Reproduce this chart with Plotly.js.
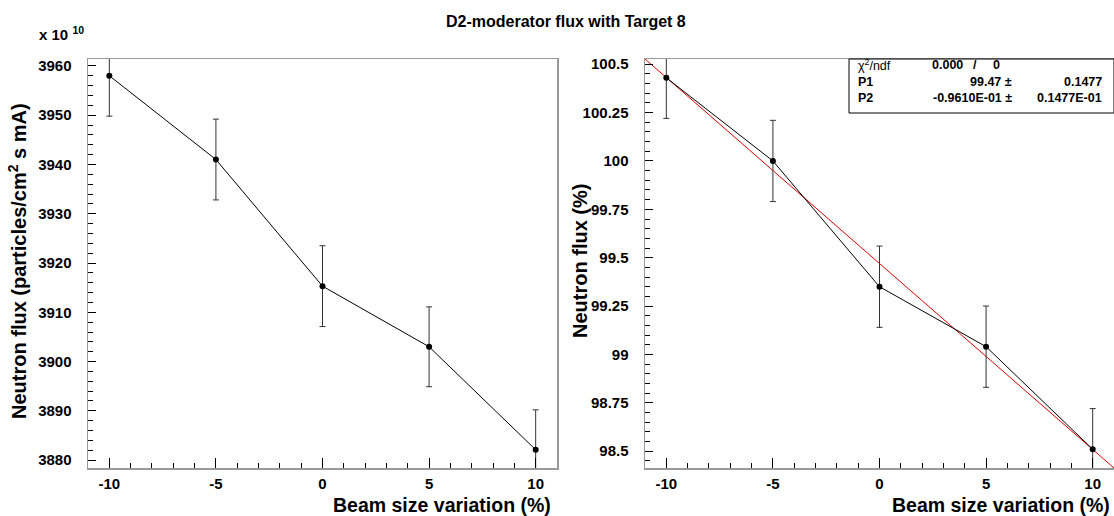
<!DOCTYPE html>
<html>
<head>
<meta charset="utf-8">
<script src="https://cdn.plot.ly/plotly-3.0.1.min.js"></script>
<style>
html,body{margin:0;padding:0;background:#fff;}
#chart{width:1114px;height:516px;}
</style>
</head>
<body>
<div id="chart"></div>
<script>
// ---- data ----
const beamVariation = [-10, -5, 0, 5, 10];
const fluxAbs = [3958.0, 3941.0, 3915.3, 3903.0, 3882.1];      // x 10^10 particles/cm^2 s mA
const fluxAbsErr = [8.2, 8.2, 8.2, 8.1, 8.1];
const fluxRel = [100.43, 100.00, 99.35, 99.04, 98.51];          // %
const fluxRelErr = [0.21, 0.21, 0.21, 0.21, 0.21];
const fitP1 = 99.47;
const fitP2 = -0.0961;
const fitRangeX = [-11, 11];
const xTicks = [-10, -5, 0, 5, 10];
const xTickLabels = ['-10', '-5', '0', '5', '10'];

const W = 1114, H = 516;
const FONT = 'Liberation Sans, Arial, Helvetica, sans-serif';

const fitY = fitRangeX.map(x => fitP1 + fitP2 * x);

const markerStyle = {color: '#000', size: 6};
const lineStyle = {color: '#000', width: 1};
const errStyle = (arr) => ({type: 'data', array: arr, visible: true, color: '#333', thickness: 1, width: 3});

const traces = [
  {x: beamVariation, y: fluxAbs, error_y: errStyle(fluxAbsErr), mode: 'lines+markers',
   marker: markerStyle, line: lineStyle, xaxis: 'x', yaxis: 'y', hoverinfo: 'x+y'},
  {x: fitRangeX, y: fitY, mode: 'lines', line: {color: '#e00000', width: 1},
   xaxis: 'x2', yaxis: 'y2', hoverinfo: 'skip'},
  {x: beamVariation, y: fluxRel, error_y: errStyle(fluxRelErr), mode: 'lines+markers',
   marker: markerStyle, line: lineStyle, xaxis: 'x2', yaxis: 'y2', hoverinfo: 'x+y'}
];

const yDom = [1 - 468 / H, 1 - 59 / H];
const tickFont = {family: FONT, size: 15, color: '#000', weight: 'bold'};

function xAxis(dom, anchor) {
  return {
    domain: dom, anchor: anchor, range: [-11, 11],
    tickmode: 'array', tickvals: xTicks, ticktext: xTickLabels,
    ticks: 'inside', ticklen: 10, tickcolor: '#000', tickwidth: 1,
    minor: {dtick: 1, tick0: 0, ticks: 'inside', ticklen: 5, tickcolor: '#000', tickwidth: 1, showgrid: false},
    showline: true, linecolor: '#999', linewidth: 1.5, mirror: true,
    showgrid: false, zeroline: false, tickfont: tickFont, ticklabelstandoff: 1, fixedrange: true
  };
}
function yAxis(range, dtick, minorD, anchor) {
  return {
    domain: yDom, anchor: anchor, range: range, dtick: dtick, tick0: 0,
    ticks: 'inside', ticklen: 8, tickcolor: '#000', tickwidth: 1,
    minor: {dtick: minorD, ticks: 'inside', ticklen: 5, tickcolor: '#000', tickwidth: 1, showgrid: false},
    showline: true, linecolor: '#999', linewidth: 1.5, mirror: true,
    showgrid: false, zeroline: false, tickfont: tickFont, ticklabelstandoff: 12, fixedrange: true
  };
}

const ax1L = 88 / W, ax1R = 557 / W, ax2L = 645 / W, ax2R = 1;

const boldF = (size) => ({family: FONT, size: size, color: '#000', weight: 'bold'});

const boxL = 849 / W, boxB = 1 - 113 / H, boxT = 1 - 59 / H;
function statText(text, xpx, ypx, anchor, bold) {
  return {text: text, xref: 'paper', yref: 'paper', x: xpx / W, y: 1 - ypx / H,
    xanchor: anchor, yanchor: 'middle', showarrow: false,
    font: {family: FONT, size: 12.5, color: '#000', weight: bold ? 'bold' : 'normal'}};
}

const layout = {
  width: W, height: H,
  margin: {l: 0, r: 0, t: 0, b: 0},
  paper_bgcolor: '#fff', plot_bgcolor: '#fff',
  showlegend: false,
  xaxis: xAxis([ax1L, ax1R], 'y'),
  yaxis: yAxis([3878.4, 3961.4], 10, 2, 'x'),
  xaxis2: xAxis([ax2L, ax2R], 'y2'),
  yaxis2: yAxis([98.413, 100.527], 0.25, 0.05, 'x2'),
  shapes: [
    {type: 'rect', xref: 'paper', yref: 'paper', x0: boxL, x1: 1, y0: boxB, y1: boxT,
     line: {color: '#000', width: 1}, fillcolor: '#fff', layer: 'above'}
  ],
  annotations: [
    {text: 'D2-moderator flux with Target 8', xref: 'paper', yref: 'paper', x: 566 / W, y: 1 - 22 / H,
     xanchor: 'center', yanchor: 'middle', showarrow: false, font: boldF(16)},
    {text: 'x 10 <sup>10</sup>', xref: 'paper', yref: 'paper', x: 37 / W, y: 1 - 33 / H,
     xanchor: 'left', yanchor: 'middle', showarrow: false, font: boldF(15)},
    {text: 'Neutron flux (particles/cm<sup>2</sup> s mA)', xref: 'paper', yref: 'paper', x: 17 / W, y: 1 - 261 / H,
     xanchor: 'center', yanchor: 'middle', textangle: -90, showarrow: false, font: boldF(20)},
    {text: 'Neutron flux (%)', xref: 'paper', yref: 'paper', x: 580 / W, y: 1 - 261 / H,
     xanchor: 'center', yanchor: 'middle', textangle: -90, showarrow: false, font: boldF(20)},
    {text: 'Beam size variation (%)', xref: 'paper', yref: 'paper', x: 553 / W, y: 1 - 505 / H,
     xanchor: 'right', yanchor: 'middle', showarrow: false, font: boldF(19.5)},
    {text: 'Beam size variation (%)', xref: 'paper', yref: 'paper', x: 1112 / W, y: 1 - 505 / H,
     xanchor: 'right', yanchor: 'middle', showarrow: false, font: boldF(19.5)},
    statText('χ<sup>2</sup>/ndf', 856, 65, 'left', false),
    statText('0.000', 930, 65, 'left', true),
    statText('/', 975, 65, 'center', true),
    statText('0', 996, 65, 'center', true),
    statText('P1', 856, 82, 'left', true),
    statText(fitP1.toFixed(2) + ' ±', 1014, 82, 'right', true),
    statText('0.1477', 1104, 82, 'right', true),
    statText('P2', 856, 98, 'left', true),
    statText('-0.9610E-01 ±', 1014, 98, 'right', true),
    statText('0.1477E-01', 1104, 98, 'right', true)
  ]
};

Plotly.newPlot('chart', traces, layout, {displayModeBar: false, staticPlot: true});
</script>
</body>
</html>
